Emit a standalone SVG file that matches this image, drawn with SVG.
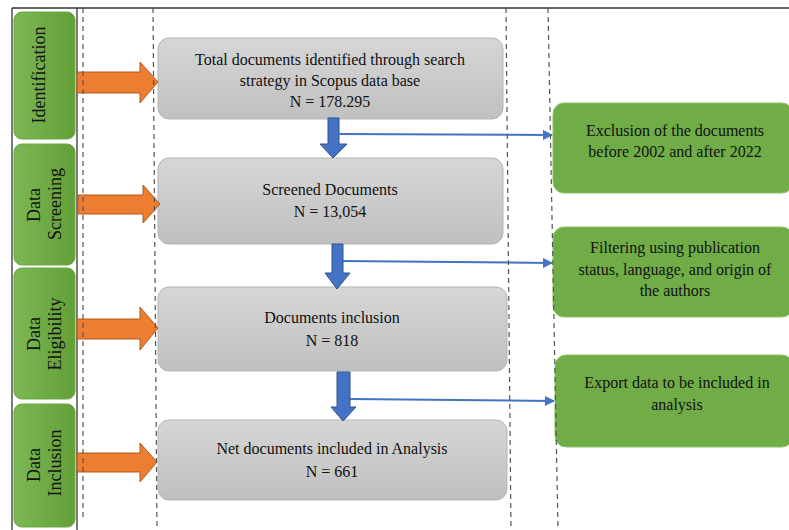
<svg xmlns="http://www.w3.org/2000/svg" width="789" height="530" viewBox="0 0 789 530">
<defs>
<linearGradient id="gStage" x1="0" y1="0" x2="1" y2="0">
<stop offset="0" stop-color="#7cb755"/>
<stop offset="1" stop-color="#62a036"/>
</linearGradient>
<linearGradient id="gGray" x1="0" y1="0" x2="0" y2="1">
<stop offset="0" stop-color="#d6d6d6"/>
<stop offset="1" stop-color="#c0c0c0"/>
</linearGradient>
<marker id="ah" viewBox="0 0 10 10" refX="9" refY="5" markerWidth="5" markerHeight="5" orient="auto" markerUnits="strokeWidth">
<path d="M0,0 L10,5 L0,10 z" fill="#4472C4"/>
</marker>
<style>
.stage{fill:url(#gStage);stroke:#6aa843;stroke-width:1}
.gray{fill:url(#gGray);stroke:#b5b5b5;stroke-width:1}
.side{fill:#70AD47;stroke:#8cc46a;stroke-width:1}
.st{font-family:"Liberation Serif","Times New Roman",serif;font-size:18px;fill:#111;text-anchor:middle}
.t{font-family:"Liberation Serif","Times New Roman",serif;font-size:16px;fill:#111;text-anchor:middle}
.orange{fill:#ED7D31;stroke:#B35A1F;stroke-width:1}
.blue{fill:#4472C4;stroke:#2F528F;stroke-width:1}
.bline{stroke:#4472C4;stroke-width:2;fill:none}
.dash{stroke:#555;stroke-width:1.2;stroke-dasharray:5,4;fill:none}
.solid{stroke:#333;stroke-width:1.3;fill:none}
</style>
</defs>

<g id="frame">
<line class="solid" x1="12" y1="8" x2="789" y2="8"/>
<line class="solid" x1="12" y1="8" x2="12" y2="530"/>
<line class="solid" x1="77" y1="8" x2="77" y2="530"/>
</g>

<g id="stage-identification">
<rect class="stage" x="14" y="12" width="61" height="127" rx="8"/>
<text class="st" transform="translate(44.5,75) rotate(-90)">Identification</text>
</g>
<g id="stage-screening">
<rect class="stage" x="14" y="144" width="61" height="121" rx="8"/>
<text class="st" transform="translate(39.5,205) rotate(-90)">Data</text>
<text class="st" transform="translate(60.5,204) rotate(-90)">Screening</text>
</g>
<g id="stage-eligibility">
<rect class="stage" x="14" y="268" width="61" height="131" rx="8"/>
<text class="st" transform="translate(39.5,334) rotate(-90)">Data</text>
<text class="st" transform="translate(60.5,334) rotate(-90)">Eligibility</text>
</g>
<g id="stage-inclusion">
<rect class="stage" x="14" y="404" width="61" height="123" rx="8"/>
<text class="st" transform="translate(39.5,465) rotate(-90)">Data</text>
<text class="st" transform="translate(60.5,463) rotate(-90)">Inclusion</text>
</g>

<g id="box-total">
<rect class="gray" x="158" y="38" width="345" height="81" rx="11"/>
<text class="t" x="330" y="65">Total documents identified through search</text>
<text class="t" x="330" y="86">strategy in Scopus data base</text>
<text class="t" x="330" y="107">N = 178.295</text>
</g>
<g id="box-screened">
<rect class="gray" x="158" y="158" width="345" height="86" rx="11"/>
<text class="t" x="330" y="195">Screened Documents</text>
<text class="t" x="330" y="217">N = 13,054</text>
</g>
<g id="box-inclusion">
<rect class="gray" x="158" y="287" width="349" height="84" rx="11"/>
<text class="t" x="332" y="323">Documents inclusion</text>
<text class="t" x="332" y="346">N = 818</text>
</g>
<g id="box-net">
<rect class="gray" x="158" y="420" width="349" height="80" rx="11"/>
<text class="t" x="332" y="454">Net documents included in Analysis</text>
<text class="t" x="332" y="477">N = 661</text>
</g>

<g id="side-exclusion">
<rect class="side" x="553" y="103" width="240" height="90" rx="11"/>
<text class="t" x="675" y="136">Exclusion of the documents</text>
<text class="t" x="675" y="157">before 2002 and after 2022</text>
</g>
<g id="side-filtering">
<rect class="side" x="553" y="227" width="240" height="90" rx="11"/>
<text class="t" x="675" y="253">Filtering using publication</text>
<text class="t" x="675" y="275">status, language, and origin of</text>
<text class="t" x="675" y="296">the authors</text>
</g>
<g id="side-export">
<rect class="side" x="555" y="355" width="238" height="92" rx="11"/>
<text class="t" x="677" y="388">Export data to be included in</text>
<text class="t" x="677" y="410">analysis</text>
</g>

<g id="connectors">
<path class="orange" d="M77,72 H140 V62 L158,82 L140,103 V93 H77 Z"/>
<path class="orange" d="M78,195 H143 V185 L160,204 L143,223 V214 H78 Z"/>
<path class="orange" d="M77,319 H140 V307 L158,328 L140,350 V339 H77 Z"/>
<path class="orange" d="M77,453 H140 V443 L157,462 L140,482 V472 H77 Z"/>

<path class="blue" d="M328,118 H339 V144 H347 L333,158 L320,144 H328 Z"/>
<path class="blue" d="M332,244 H343 V273 H350 L337,289 L325,273 H332 Z"/>
<path class="blue" d="M337,372 H350 V407 H356 L343,421 L331,407 H337 Z"/>

<line class="bline" x1="339" y1="134" x2="552" y2="135" marker-end="url(#ah)"/>
<line class="bline" x1="343" y1="261" x2="552" y2="263" marker-end="url(#ah)"/>
<line class="bline" x1="350" y1="399" x2="554" y2="401" marker-end="url(#ah)"/>
</g>

<g id="guides">
<line class="dash" x1="83" y1="8" x2="83" y2="518"/>
<line class="dash" x1="153" y1="8" x2="157" y2="530"/>
<line class="dash" x1="506" y1="8" x2="511" y2="530"/>
<line class="dash" x1="548" y1="8" x2="558" y2="530"/>
</g>
</svg>
